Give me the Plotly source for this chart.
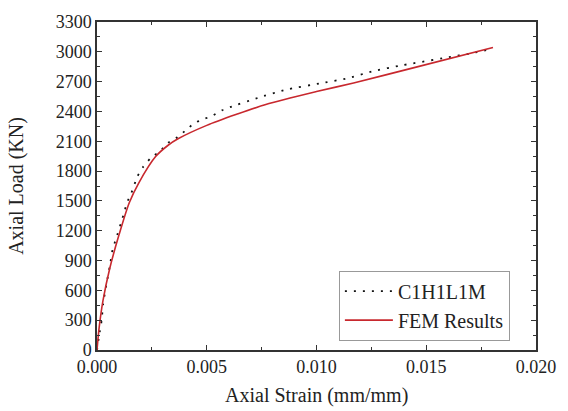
import plotly.graph_objects as go

exp_strain = [0, 0.0001, 0.00021, 0.00028, 0.00043, 0.00058, 0.00072, 0.00087, 0.0011, 0.00124,
              0.00136, 0.00154, 0.00184, 0.00209, 0.00243, 0.00287, 0.00324, 0.00366, 0.00406,
              0.00443, 0.00484, 0.00524, 0.00569, 0.00606, 0.00732, 0.00858, 0.0102, 0.0114,
              0.01258, 0.01391, 0.01591, 0.0171, 0.018]
exp_load = [0, 150, 296, 464, 662, 840, 1020, 1120, 1284, 1383, 1482, 1564, 1746, 1838, 1927,
            2000, 2085, 2141, 2213, 2282, 2322, 2354, 2411, 2443, 2536, 2618, 2684, 2733, 2806,
            2865, 2941, 2987, 3030]

fem_strain = [0, 0.0001, 0.00027, 0.00058, 0.001, 0.00147, 0.0019, 0.00267, 0.00324, 0.00369,
              0.005, 0.00636, 0.00769, 0.01, 0.01169, 0.01436, 0.01804]
fem_load = [0, 230, 494, 820, 1156, 1482, 1680, 1946, 2060, 2125, 2260, 2371, 2470, 2600, 2687,
            2836, 3043]

font = "Liberation Serif, Times New Roman, serif"

fig = go.Figure()
fig.add_trace(go.Scatter(x=exp_strain, y=exp_load, mode="lines", name="C1H1L1M",
                         line=dict(color="#111111", width=1.8, dash="2px,7px", shape="spline", smoothing=0.5)))
fig.add_trace(go.Scatter(x=fem_strain, y=fem_load, mode="lines", name="FEM Results",
                         line=dict(color="#c8282e", width=1.6, shape="spline", smoothing=0.8)))

axis_common = dict(showline=True, linecolor="#333333", linewidth=1.5, mirror="allticks",
                   ticks="inside", ticklen=5, tickwidth=1.2, tickcolor="#333333",
                   showgrid=False, zeroline=False,
                   tickfont=dict(family=font, size=18, color="#222222"))

fig.update_xaxes(range=[0, 0.02], tickvals=[0, 0.005, 0.01, 0.015, 0.02], tickformat=".3f",
                 minor=dict(tickvals=[0.0025, 0.0075, 0.0125, 0.0175], ticks="inside", ticklen=3,
                            tickcolor="#333333"),
                 **axis_common)
fig.update_yaxes(range=[0, 3300], dtick=300, tick0=0,
                 minor=dict(dtick=150, ticks="inside", ticklen=3, tickcolor="#333333"),
                 title=dict(text="Axial Load (KN)", font=dict(family=font, size=20, color="#222222"),
                            standoff=27),
                 **axis_common)

fig.add_annotation(text="Axial Strain (mm/mm)", xref="paper", yref="paper", x=0.5, y=-0.138,
                   xanchor="center", yanchor="middle", showarrow=False,
                   font=dict(family=font, size=20, color="#222222"))

fig.update_layout(width=568, height=411, margin=dict(l=97, r=21, t=16, b=61),
                  plot_bgcolor="white", paper_bgcolor="white",
                  showlegend=True,
                  legend=dict(x=0.551, y=0.242, xanchor="left", yanchor="top",
                              bgcolor="white", bordercolor="#999999", borderwidth=1,
                              font=dict(family=font, size=20, color="#222222"),
                              tracegroupgap=0, itemwidth=48))

fig.write_html("out.html")
